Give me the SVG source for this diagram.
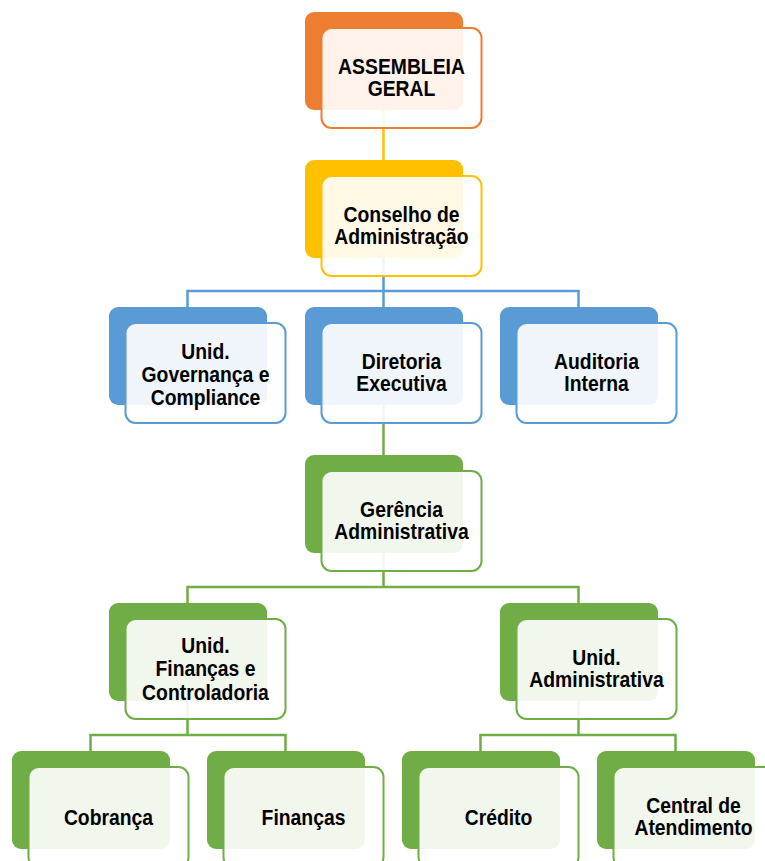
<svg xmlns="http://www.w3.org/2000/svg" width="765" height="861" viewBox="0 0 765 861">
<style>
.bk{stroke:none}
.fr{fill:#ffffff;fill-opacity:0.9;stroke-width:2}
.o .bk{fill:#ED7D31}.o .fr{stroke:#ED7D31}
.y .bk{fill:#FFC000}.y .fr{stroke:#FFC000}
.b .bk{fill:#5B9BD5}.b .fr{stroke:#5B9BD5}
.g .bk{fill:#70AD47}.g .fr{stroke:#70AD47}
text{font-family:"Liberation Sans",Arial,sans-serif;font-weight:bold;font-size:22.5px;fill:#000;text-anchor:middle}
.c{fill:none;stroke-width:2.5}
</style>
<rect width="765" height="861" fill="#ffffff"/>
<g id="connectors">
<path class="c" stroke="#FFC000" d="M383.5 110V160"/>
<path class="c" stroke="#5B9BD5" d="M383.5 258V291M187.5 307V291H578.5V307M383.5 291V307"/>
<path class="c" stroke="#70AD47" d="M383.5 405V455"/>
<path class="c" stroke="#70AD47" d="M383.5 553V587M187.5 603V587H578.5V603"/>
<path class="c" stroke="#70AD47" d="M187.5 701V735M90.5 751V735H285.5V751"/>
<path class="c" stroke="#70AD47" d="M578.5 701V735M480.5 751V735H675.5V751"/>
</g>
<g id="assembleia" class="o">
<rect class="bk" x="305" y="12" width="158" height="98" rx="9"/>
<rect class="fr" x="321.5" y="28" width="160" height="100" rx="10"/>
<text transform="translate(401.5 73.5) scale(0.86 1)"><tspan x="0">ASSEMBLEIA</tspan><tspan x="0" dy="23">GERAL</tspan></text>
</g>
<g id="conselho" class="y">
<rect class="bk" x="305" y="160" width="158" height="98" rx="9"/>
<rect class="fr" x="321.5" y="176" width="160" height="100" rx="10"/>
<text transform="translate(401.5 221.5) scale(0.86 1)"><tspan x="0">Conselho de</tspan><tspan x="0" dy="23">Administração</tspan></text>
</g>
<g id="governanca" class="b">
<rect class="bk" x="109" y="307" width="158" height="98" rx="9"/>
<rect class="fr" x="125.5" y="323" width="160" height="100" rx="10"/>
<text transform="translate(205.5 358.5) scale(0.86 1)"><tspan x="0">Unid.</tspan><tspan x="0" dy="23.5">Governança e</tspan><tspan x="0" dy="23.5">Compliance</tspan></text>
</g>
<g id="diretoria" class="b">
<rect class="bk" x="305" y="307" width="158" height="98" rx="9"/>
<rect class="fr" x="321.5" y="323" width="160" height="100" rx="10"/>
<text transform="translate(401.5 368.5) scale(0.86 1)"><tspan x="0">Diretoria</tspan><tspan x="0" dy="23">Executiva</tspan></text>
</g>
<g id="auditoria" class="b">
<rect class="bk" x="500" y="307" width="158" height="98" rx="9"/>
<rect class="fr" x="516.5" y="323" width="160" height="100" rx="10"/>
<text transform="translate(596.5 368.5) scale(0.86 1)"><tspan x="0">Auditoria</tspan><tspan x="0" dy="23">Interna</tspan></text>
</g>
<g id="gerencia" class="g">
<rect class="bk" x="305" y="455" width="158" height="98" rx="9"/>
<rect class="fr" x="321.5" y="471" width="160" height="100" rx="10"/>
<text transform="translate(401.5 516.5) scale(0.86 1)"><tspan x="0">Gerência</tspan><tspan x="0" dy="23">Administrativa</tspan></text>
</g>
<g id="financas-controladoria" class="g">
<rect class="bk" x="109" y="603" width="158" height="98" rx="9"/>
<rect class="fr" x="125.5" y="619" width="160" height="100" rx="10"/>
<text transform="translate(205.5 653) scale(0.86 1)"><tspan x="0">Unid.</tspan><tspan x="0" dy="23.5">Finanças e</tspan><tspan x="0" dy="23.5">Controladoria</tspan></text>
</g>
<g id="unid-administrativa" class="g">
<rect class="bk" x="500" y="603" width="158" height="98" rx="9"/>
<rect class="fr" x="516.5" y="619" width="160" height="100" rx="10"/>
<text transform="translate(596.5 664.5) scale(0.86 1)"><tspan x="0">Unid.</tspan><tspan x="0" dy="23">Administrativa</tspan></text>
</g>
<g id="cobranca" class="g">
<rect class="bk" x="12" y="751" width="158" height="98" rx="9"/>
<rect class="fr" x="28.5" y="767" width="160" height="100" rx="10"/>
<text transform="translate(108.5 824.5) scale(0.86 1)">Cobrança</text>
</g>
<g id="financas" class="g">
<rect class="bk" x="207" y="751" width="158" height="98" rx="9"/>
<rect class="fr" x="223.5" y="767" width="160" height="100" rx="10"/>
<text transform="translate(303.5 824.5) scale(0.86 1)">Finanças</text>
</g>
<g id="credito" class="g">
<rect class="bk" x="402" y="751" width="158" height="98" rx="9"/>
<rect class="fr" x="418.5" y="767" width="160" height="100" rx="10"/>
<text transform="translate(498.5 824.5) scale(0.86 1)">Crédito</text>
</g>
<g id="central" class="g">
<rect class="bk" x="597" y="751" width="158" height="98" rx="9"/>
<rect class="fr" x="613.5" y="767" width="160" height="100" rx="10"/>
<text transform="translate(693.5 812.5) scale(0.86 1)"><tspan x="0">Central de</tspan><tspan x="0" dy="23">Atendimento</tspan></text>
</g>
</svg>
